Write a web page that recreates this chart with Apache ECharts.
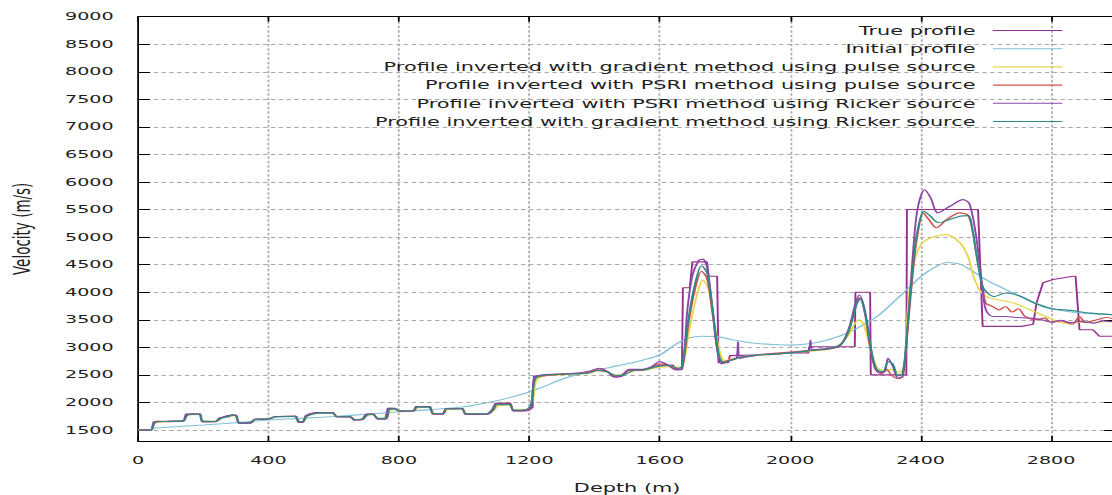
<!DOCTYPE html>
<html>
<head>
<meta charset="utf-8">
<title>Velocity profiles</title>
<script src="https://cdn.jsdelivr.net/npm/echarts@6/dist/echarts.min.js"></script>
<style>
  html, body { margin: 0; padding: 0; background: #fff; overflow: hidden; }
  /* the chart is laid out at 640px and widened to fill the 1112px page */
  #chart { width: 640px; height: 495px; transform: scaleX(1.7375); transform-origin: 0 0; }
</style>
</head>
<body>
<div id="chart"></div>
<script>
// Axis ticks
const depthTicks = [0, 400, 800, 1200, 1600, 2000, 2400, 2800];
const velocityTicks = [1500, 2000, 2500, 3000, 3500, 4000, 4500, 5000, 5500, 6000, 6500, 7000, 7500, 8000, 8500, 9000];

const seriesNames = [
  'True profile',
  'Initial profile',
  'Profile inverted with gradient method using pulse source',
  'Profile inverted with PSRI method using pulse source',
  'Profile inverted with PSRI method using Ricker source',
  'Profile inverted with gradient method using Ricker source'
];

// [depth (m), velocity (m/s)]
const trueProfile = [
  [0,1500],[42,1500],[48,1650],[140,1660],[147,1790],[190,1790],[197,1650],[238,1650],[250,1720],[280,1740],
  [286,1770],[300,1770],[308,1625],[343,1625],[358,1695],[405,1700],[420,1745],[485,1750],[491,1640],[505,1640],
  [514,1760],[545,1815],[598,1815],[608,1740],[650,1740],[662,1680],[688,1690],[698,1785],[722,1790],[734,1700],
  [758,1700],[766,1895],[788,1895],[798,1845],[845,1845],[852,1925],[895,1925],[904,1790],[935,1790],[944,1890],
  [995,1890],[1004,1785],[1070,1785],[1085,1860],[1096,1985],[1140,1985],[1150,1850],[1190,1850],[1200,1900],[1210,1900],
  [1214,2480],[1300,2510],[1380,2540],[1410,2600],[1440,2560],[1460,2470],[1480,2480],[1500,2580],[1560,2600],[1580,2660],
  [1640,2680],[1650,2610],[1668,2600],[1671,4080],[1692,4080],[1700,4550],[1745,4550],[1750,4290],[1776,4290],[1780,2720],
  [1810,2720],[1815,2850],[1950,2870],[2000,2900],[2056,2900],[2058,3010],[2198,3010],[2200,4000],[2245,4000],[2247,2500],
  [2356,2500],[2358,5500],[2576,5500],[2590,3380],[2710,3380],[2745,3420],[2755,3800],[2775,4170],[2806,4230],[2867,4290],
  [2875,4290],[2887,3320],[2928,3320],[2948,3200],[3000,3200]
];

const initialProfile = [
  [40,1530],[100,1555],[200,1590],[300,1630],[400,1680],[500,1710],[600,1745],[700,1785],[800,1830],[900,1870],
  [1000,1920],[1100,2030],[1160,2120],[1200,2190],[1250,2300],[1300,2420],[1350,2510],[1400,2580],[1450,2640],[1500,2700],
  [1550,2770],[1600,2860],[1650,3060],[1690,3170],[1730,3200],[1780,3190],[1830,3130],[1900,3070],[1950,3050],[2000,3040],
  [2050,3060],[2100,3110],[2150,3200],[2200,3330],[2240,3460],[2275,3600],[2320,3840],[2360,4060],[2400,4280],[2440,4440],
  [2480,4540],[2520,4510],[2560,4380],[2600,4230],[2650,4080],[2700,3940],[2750,3810],[2800,3710],[2850,3650],[2900,3620],
  [2950,3600],[3000,3590]
];

const gradientPulse = [
  [0,1500],[40,1500],[52,1620],[100,1655],[140,1665],[152,1760],[188,1780],[200,1660],[240,1660],[260,1720],
  [295,1760],[312,1640],[345,1630],[365,1690],[405,1700],[425,1740],[484,1745],[495,1660],[508,1655],[520,1750],
  [552,1805],[597,1810],[612,1745],[652,1740],[667,1690],[692,1700],[706,1770],[722,1775],[738,1710],[762,1710],
  [774,1860],[792,1870],[804,1845],[848,1850],[858,1905],[892,1910],[908,1805],[937,1800],[950,1870],[993,1875],
  [1008,1800],[1072,1800],[1092,1855],[1105,1940],[1138,1950],[1154,1865],[1192,1870],[1208,1950],[1222,2400],[1245,2480],
  [1300,2500],[1380,2525],[1410,2570],[1440,2550],[1465,2500],[1490,2510],[1520,2570],[1560,2590],[1600,2640],[1640,2650],
  [1665,2640],[1690,3300],[1712,3900],[1732,4220],[1750,4050],[1768,3400],[1785,2900],[1800,2760],[1830,2800],[1870,2840],
  [1920,2860],[1970,2880],[2020,2910],[2080,2940],[2130,2980],[2170,3150],[2195,3400],[2210,3500],[2225,3420],[2245,3000],
  [2265,2650],[2285,2580],[2310,2600],[2335,2540],[2350,2700],[2362,3800],[2380,4530],[2400,4860],[2430,4985],[2476,5045],
  [2520,4900],[2545,4650],[2562,4290],[2580,4045],[2600,3924],[2635,3864],[2685,3803],[2735,3682],[2785,3560],[2840,3440],
  [2890,3450],[2950,3460],[3000,3470]
];

const psriPulse = [
  [0,1500],[40,1500],[50,1630],[60,1660],[100,1650],[140,1670],[150,1770],[190,1790],[198,1650],[240,1660],
  [260,1730],[290,1770],[302,1760],[310,1630],[345,1630],[362,1700],[400,1700],[425,1745],[482,1750],[492,1650],
  [506,1645],[516,1760],[550,1815],[596,1815],[610,1740],[650,1745],[664,1685],[690,1700],[702,1790],[720,1785],
  [736,1700],[762,1705],[772,1890],[790,1885],[802,1840],[846,1850],[855,1925],[894,1920],[905,1795],[935,1790],
  [946,1885],[994,1890],[1005,1790],[1072,1790],[1090,1870],[1102,1975],[1140,1990],[1152,1850],[1190,1855],[1205,1940],
  [1216,2430],[1240,2480],[1280,2500],[1320,2520],[1360,2530],[1390,2560],[1412,2610],[1435,2570],[1462,2480],[1485,2500],
  [1510,2590],[1540,2580],[1570,2620],[1600,2700],[1630,2660],[1650,2600],[1668,2620],[1690,3500],[1710,4100],[1728,4380],
  [1745,4250],[1762,3600],[1780,2850],[1795,2740],[1820,2780],[1850,2830],[1880,2840],[1910,2870],[1950,2890],[1990,2910],
  [2030,2930],[2070,2950],[2110,2960],[2150,3020],[2180,3300],[2200,3750],[2213,3900],[2228,3650],[2245,3000],[2260,2650],
  [2280,2520],[2295,2600],[2310,2500],[2330,2430],[2345,2470],[2360,3300],[2380,4600],[2395,5200],[2407,5440],[2425,5320],
  [2448,5170],[2480,5320],[2520,5440],[2545,5400],[2560,5080],[2570,4710],[2590,4100],[2600,3800],[2621,3740],[2640,3680],
  [2660,3740],[2680,3640],[2700,3700],[2720,3560],[2750,3500],[2780,3530],[2800,3450],[2830,3480],[2865,3420],[2887,3560],
  [2905,3450],[2940,3500],[2970,3540],[3000,3500]
];

const psriRicker = [
  [0,1500],[40,1500],[50,1640],[100,1660],[140,1665],[150,1785],[190,1785],[198,1650],[240,1655],[255,1725],
  [290,1770],[302,1765],[310,1625],[345,1625],[360,1695],[400,1700],[422,1745],[484,1750],[492,1645],[506,1640],
  [516,1760],[550,1815],[597,1815],[610,1740],[652,1740],[664,1680],[690,1690],[700,1785],[722,1790],[736,1700],
  [760,1700],[770,1895],[790,1890],[802,1845],[846,1845],[854,1925],[894,1925],[905,1790],[936,1790],[946,1890],
  [994,1890],[1005,1785],[1072,1785],[1088,1865],[1100,1985],[1140,1985],[1152,1845],[1195,1850],[1208,1920],[1215,2440],
  [1240,2500],[1300,2520],[1360,2540],[1385,2570],[1415,2620],[1440,2560],[1460,2460],[1485,2480],[1505,2600],[1540,2600],
  [1575,2650],[1600,2740],[1625,2680],[1650,2590],[1668,2600],[1685,3700],[1700,4300],[1720,4580],[1732,4600],[1745,4450],
  [1760,3800],[1775,3000],[1790,2700],[1815,2760],[1835,2800],[1840,3100],[1845,2800],[1880,2840],[1920,2870],[1960,2880],
  [2000,2900],[2040,2920],[2058,2950],[2062,3130],[2068,2960],[2110,2980],[2150,3010],[2180,3350],[2200,3800],[2212,3950],
  [2228,3700],[2245,3100],[2258,2650],[2272,2540],[2290,2560],[2300,2800],[2315,2650],[2330,2440],[2345,2480],[2358,3200],
  [2375,4600],[2390,5500],[2412,5860],[2430,5720],[2453,5440],[2490,5560],[2530,5680],[2550,5600],[2570,5020],[2590,4050],
  [2600,3680],[2621,3560],[2662,3560],[2693,3540],[2735,3530],[2770,3500],[2800,3460],[2830,3490],[2860,3450],[2890,3470],
  [2930,3440],[2960,3480],[3000,3450]
];

const gradientRicker = [
  [0,1500],[40,1500],[50,1620],[60,1650],[100,1655],[140,1665],[150,1760],[165,1790],[188,1785],[198,1660],
  [235,1655],[250,1700],[270,1735],[290,1765],[300,1760],[310,1640],[340,1630],[360,1690],[400,1700],[420,1735],
  [480,1745],[492,1660],[505,1650],[518,1750],[550,1805],[595,1810],[610,1745],[650,1735],[665,1690],[690,1700],
  [705,1775],[720,1780],[736,1710],[760,1710],[770,1870],[790,1880],[800,1845],[845,1850],[856,1915],[892,1915],
  [906,1800],[935,1800],[946,1880],[993,1880],[1006,1795],[1070,1795],[1088,1860],[1100,1960],[1138,1965],[1152,1860],
  [1190,1870],[1205,1960],[1218,2420],[1240,2490],[1300,2510],[1380,2530],[1410,2580],[1440,2550],[1465,2490],[1490,2500],
  [1520,2580],[1560,2600],[1590,2650],[1630,2670],[1655,2620],[1668,2650],[1690,3600],[1710,4200],[1728,4480],[1745,4350],
  [1762,3700],[1780,2900],[1795,2720],[1815,2760],[1850,2820],[1900,2860],[1950,2880],[2000,2900],[2060,2940],[2120,2980],
  [2160,3080],[2185,3400],[2205,3800],[2215,3880],[2230,3600],[2250,2900],[2265,2600],[2285,2560],[2300,2740],[2315,2700],
  [2330,2480],[2345,2530],[2360,3400],[2380,4700],[2395,5250],[2410,5470],[2430,5380],[2455,5260],[2480,5300],[2520,5380],
  [2545,5390],[2560,5100],[2575,4530],[2590,4100],[2605,3985],[2625,3920],[2660,3985],[2700,3940],[2750,3800],[2800,3700],
  [2860,3670],[2920,3620],[3000,3590]
];

const seriesData = [trueProfile, initialProfile, gradientPulse, psriPulse, psriRicker, gradientRicker];
const seriesColors = ['#96308f', '#80c0d8', '#e6d64a', '#d4504c', '#8a46a8', '#2e8a84'];
// the true model is a layered (stepwise) profile; the other curves are drawn smooth
const seriesSmooth = [false, 0.3, 0.3, 0.3, 0.3, 0.3];

const FONT = 'DejaVu Sans';
const INK = '#1e1e1e';
const gridStyle = { color: '#a9a9a9', width: 1, type: [2.5, 2] };
const plainNumber = (v) => String(v);

const chart = echarts.init(document.getElementById('chart'), null, { renderer: 'svg' });

const sideAxis = (extra) => Object.assign({
  type: 'value',
  axisLine: { show: true, onZero: false, lineStyle: { color: '#000', width: 1 } },
  axisTick: { show: true, inside: true, lineStyle: { color: '#000', width: 1 } },
  axisLabel: { show: false },
  splitLine: { show: false }
}, extra);

chart.setOption({
  animation: false,
  backgroundColor: '#fff',
  // fixed plot frame: axis names and labels sit in the margins without moving it
  grid: { left: 79.4, right: -2.5, top: 16.7, bottom: 54, containLabel: false, outerBoundsMode: 'none' },
  legend: {
    data: seriesNames,
    orient: 'vertical',
    align: 'right',
    right: 23,
    top: 19.5,
    itemWidth: 40,
    itemHeight: 12,
    itemGap: 6.2,
    selectedMode: false,
    // key entries are plain line samples, no marker on them
    itemStyle: { color: 'rgba(0,0,0,0)', borderWidth: 0, opacity: 0 },
    lineStyle: { width: 1.1 },
    textStyle: { fontFamily: FONT, fontSize: 12, color: INK, padding: [0, 5, 0, 0] }
  },
  xAxis: [
    sideAxis({
      position: 'bottom', min: 0, max: 3000,
      name: 'Depth (m)', nameLocation: 'middle', nameGap: 41,
      nameTextStyle: { fontFamily: FONT, fontSize: 12, color: INK },
      axisTick: { show: true, inside: true, length: 5, customValues: depthTicks, lineStyle: { color: '#000' } },
      axisLabel: { show: true, customValues: depthTicks, margin: 14, fontFamily: FONT, fontSize: 11, color: INK, formatter: plainNumber },
      splitLine: { show: true, lineStyle: gridStyle }
    }),
    sideAxis({
      position: 'top', min: 0, max: 3000,
      axisTick: { show: true, inside: true, length: 5, customValues: depthTicks, lineStyle: { color: '#000' } }
    })
  ],
  yAxis: [
    sideAxis({
      position: 'left', min: 1300, max: 9000,
      name: 'Velocity (m/s)', nameLocation: 'middle', nameGap: 60,
      nameTextStyle: { fontFamily: FONT, fontSize: 13.5, color: INK },
      axisTick: { show: true, inside: true, length: 7, customValues: velocityTicks, lineStyle: { color: '#000' } },
      axisLabel: { show: true, customValues: velocityTicks, margin: 14, fontFamily: FONT, fontSize: 11, color: INK, formatter: plainNumber },
      splitLine: { show: true, lineStyle: gridStyle }
    }),
    sideAxis({
      position: 'right', min: 1300, max: 9000,
      axisTick: { show: true, inside: true, length: 7, customValues: velocityTicks, lineStyle: { color: '#000' } }
    })
  ],
  series: seriesNames.map((name, i) => ({
    name,
    type: 'line',
    data: seriesData[i],
    xAxisIndex: 0,
    yAxisIndex: 0,
    symbol: 'none',
    showSymbol: false,
    smooth: seriesSmooth[i],
    clip: true,
    color: seriesColors[i],
    lineStyle: { color: seriesColors[i], width: 1.1 },
    emphasis: { disabled: true }
  }))
});
</script>
</body>
</html>
